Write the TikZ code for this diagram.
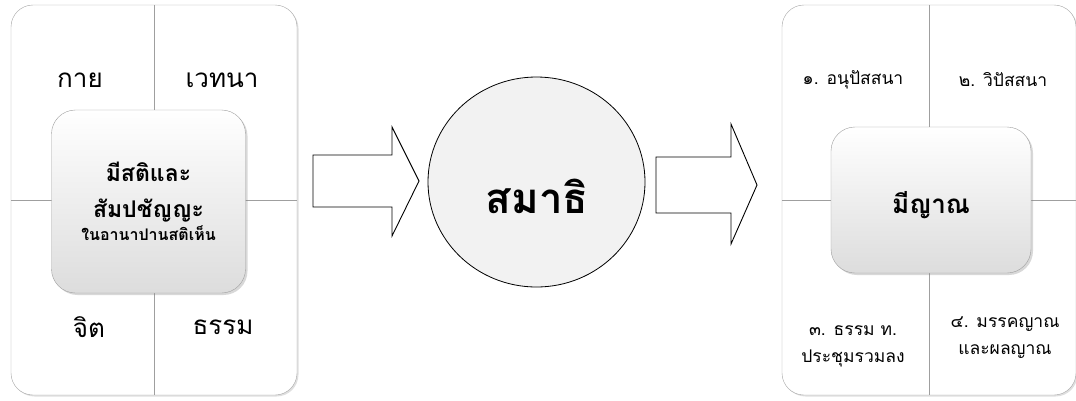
\documentclass[tikz,border=0pt]{standalone}
\usepackage{fontspec}
\newfontfamily\thaifont[Script=Thai]{Loma}
\usetikzlibrary{positioning, shapes.geometric, shadows, calc}

\begin{document}
\begin{tikzpicture}[x=1pt, y=-1pt, font=\thaifont,
    panel/.style={draw=gray!70, fill=white, rounded corners=22pt, minimum width=286pt, minimum height=390pt, drop shadow={opacity=0.25, shadow xshift=1.5pt, shadow yshift=-1.5pt}},
    core/.style={draw=gray!75, rounded corners=24pt, top color=white, bottom color=gray!27, align=center, drop shadow={opacity=0.3, shadow xshift=2pt, shadow yshift=-2pt}},
    divider/.style={draw=gray!75, line width=0.7pt},
    quadbig/.style={font=\thaifont\fontsize{26}{30}\selectfont},
    quadsmall/.style={font=\thaifont\fontsize{17.5}{27}\selectfont, align=center},
    blockarrow/.style={draw=black, line width=0.9pt, fill=white, line join=miter}]
  \useasboundingbox (0,0) rectangle (1076,400);

  % กรอบซ้าย: สติปัฏฐาน ๔
  \node[panel] (left) at (154,200) {};
  \draw[divider] (left.north) -- (left.south);
  \draw[divider] (left.west) -- (left.east);
  \node[core, minimum width=194pt, minimum height=183pt] (sati) at (148.5,201.5) {};
  \node[align=center, font=\thaifont\bfseries\fontsize{23}{36}\selectfont] (satitext) at (148.5,192) {มีสติและ\\สัมปชัญญะ};
  \node[font=\thaifont\bfseries\fontsize{16}{18}\selectfont, below=-3pt of satitext] (satisub) {ในอานาปานสติเห็น};
  \node[quadbig] (kaya) at (80,80) {กาย};
  \node[quadbig] (vedana) at (222,80) {เวทนา};
  \node[quadbig] (citta) at (89,327) {จิต};
  \node[quadbig] (dhamma) at (223,327) {ธรรม};

  % ลูกศร
  \draw[blockarrow] (313,155) -- (392,155) -- (392,127) -- (419,181) -- (392,236) -- (392,207) -- (313,207) -- cycle;
  \node[ellipse, draw=black, line width=0.8pt, fill=gray!10, minimum width=217pt, minimum height=210pt] (samadhi) at (536.5,182) {};
  \node[font=\thaifont\bfseries\fontsize{42}{46}\selectfont] (samaditext) at (537,196) {สมาธิ};
  \draw[blockarrow] (656,157) -- (731,157) -- (731,124) -- (757,185) -- (731,244) -- (731,213) -- (656,213) -- cycle;

  % กรอบขวา: ญาณ
  \node[panel, minimum width=294pt] (right) at (929,200) {};
  \draw[divider] (right.north) -- (right.south);
  \draw[divider] (right.west) -- (right.east);
  \node[core, minimum width=200pt, minimum height=146pt] (nana) at (931,200) {};
  \node[font=\thaifont\bfseries\fontsize{26}{30}\selectfont] (nanatext) at (931,205) {มีญาณ};
  \node[quadsmall] (anu) at (853,80) {๑. อนุปัสสนา};
  \node[quadsmall] (vipa) at (1003,80) {๒. วิปัสสนา};
  \node[quadsmall] (prachum) at (853,346) {๓. ธรรม ท.\\ประชุมรวมลง};
  \node[quadsmall] (magga) at (1005,338) {๔. มรรคญาณ\\และผลญาณ};
\end{tikzpicture}
\end{document}
